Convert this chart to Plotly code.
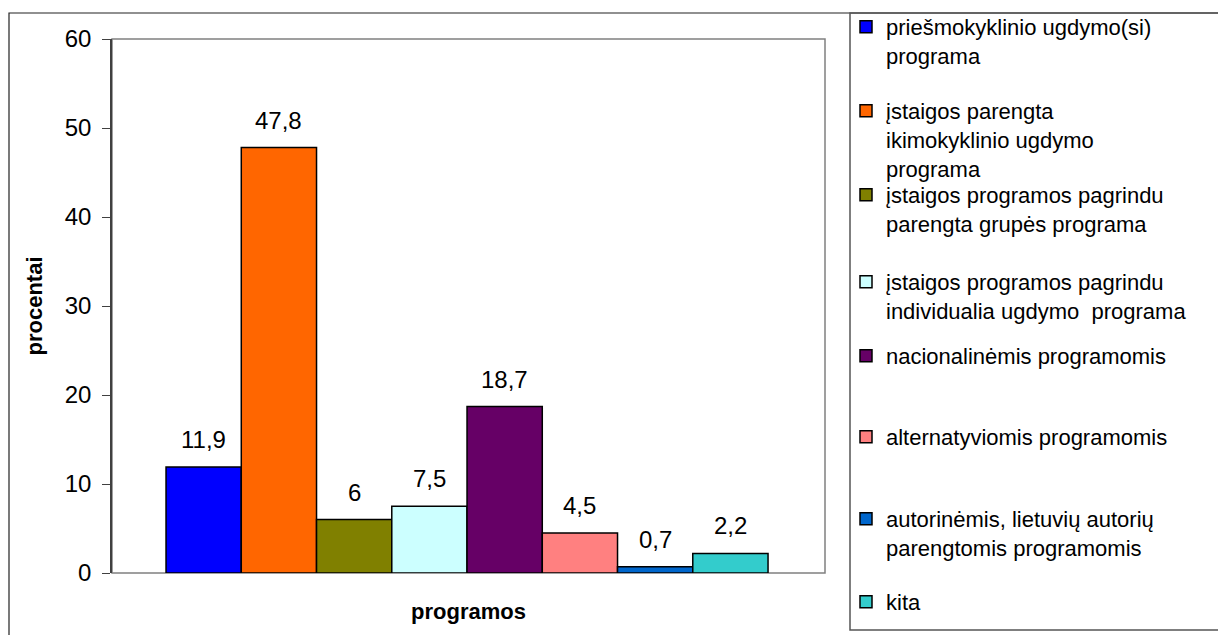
import plotly.graph_objects as go

series_names = [
    "priešmokyklinio ugdymo(si)<br>programa",
    "įstaigos parengta<br>ikimokyklinio ugdymo<br>programa",
    "įstaigos programos pagrindu<br>parengta grupės programa",
    "įstaigos programos pagrindu<br>individualia ugdymo  programa",
    "nacionalinėmis programomis",
    "alternatyviomis programomis",
    "autorinėmis, lietuvių autorių<br>parengtomis programomis",
    "kita",
]
values = [11.9, 47.8, 6, 7.5, 18.7, 4.5, 0.7, 2.2]
colors = ["#0000FF", "#FF6600", "#808000", "#CCFFFF", "#660066", "#FF8080", "#0066CC", "#33CCCC"]
y_ticks = [0, 10, 20, 30, 40, 50, 60]

FONT = "Liberation Sans, Arial, sans-serif"
W, H = 1226, 635
L, R, T, B = 112, 825, 39, 573
OFF = 8  # page body margin compensation

def px_x(px):
    return (px - L) / (R - L)

def px_y(py):
    return (B - py) / (B - T)

fig = go.Figure()
legend_line_centers = [28, 112, 196, 283, 357, 438, 520, 603]
for i, (name, v, c) in enumerate(zip(series_names, values, colors)):
    lk = "legend" if i == 0 else f"legend{i+1}"
    fig.add_trace(go.Bar(
        x=[i], y=[v], name=name, width=1,
        marker=dict(color=c, line=dict(color="black", width=1.5)),
        legend=lk, hoverinfo="skip",
    ))
    fig.add_annotation(
        x=i, y=v, xref="x", yref="y", text=f"{v:g}".replace(".", ","),
        showarrow=False, yanchor="bottom", yshift=12,
        font=dict(family=FONT, size=24, color="black"),
    )

layout_legends = {}
for i, yc in enumerate(legend_line_centers):
    lk = "legend" if i == 0 else f"legend{i+1}"
    layout_legends[lk] = dict(
        x=px_x(846), xanchor="left",
        y=px_y(yc - 22), yanchor="top",
        font=dict(family=FONT, size=22, color="black"),
        bgcolor="rgba(0,0,0,0)", borderwidth=0, valign="top",
        traceorder="normal",
    )

fig.update_layout(
    width=W, height=H,
    margin=dict(l=L - OFF, r=W - R + OFF, t=T - OFF, b=H - B + OFF, autoexpand=False),
    paper_bgcolor="white", plot_bgcolor="white",
    barmode="overlay",
    showlegend=True,
    font=dict(family=FONT, size=24, color="black"),
    xaxis=dict(
        range=[-1.218, 8.257], showticklabels=False, ticks="", showgrid=False,
        zeroline=False, showline=False,
        title=dict(text="<b>programos</b>", font=dict(family=FONT, size=22, color="black"), standoff=30),
    ),
    yaxis=dict(
        range=[0, 60], tickvals=y_ticks, ticks="outside", ticklen=8, tickcolor="#404040",
        showgrid=False, zeroline=False, showline=True, linecolor="#404040", linewidth=1.5,
        ticklabelstandoff=6,
        tickfont=dict(family=FONT, size=24, color="black"),
        title=dict(text="<b>procentai</b>", font=dict(family=FONT, size=22, color="black"), standoff=16),
    ),
    shapes=[
        dict(type="rect", xref="paper", yref="paper", x0=0, x1=1, y0=0, y1=1,
             line=dict(color="#808080", width=1.5), layer="below"),
        dict(type="rect", xref="paper", yref="paper", x0=px_x(9), x1=px_x(1240), y0=px_y(660), y1=px_y(13),
             line=dict(color="#222222", width=1.2), layer="below"),
        dict(type="rect", xref="paper", yref="paper", x0=px_x(850), x1=px_x(1240), y0=px_y(630), y1=px_y(13),
             line=dict(color="#555555", width=1.5), layer="below"),
    ],
    **layout_legends,
)

fig.write_html("out.html")
